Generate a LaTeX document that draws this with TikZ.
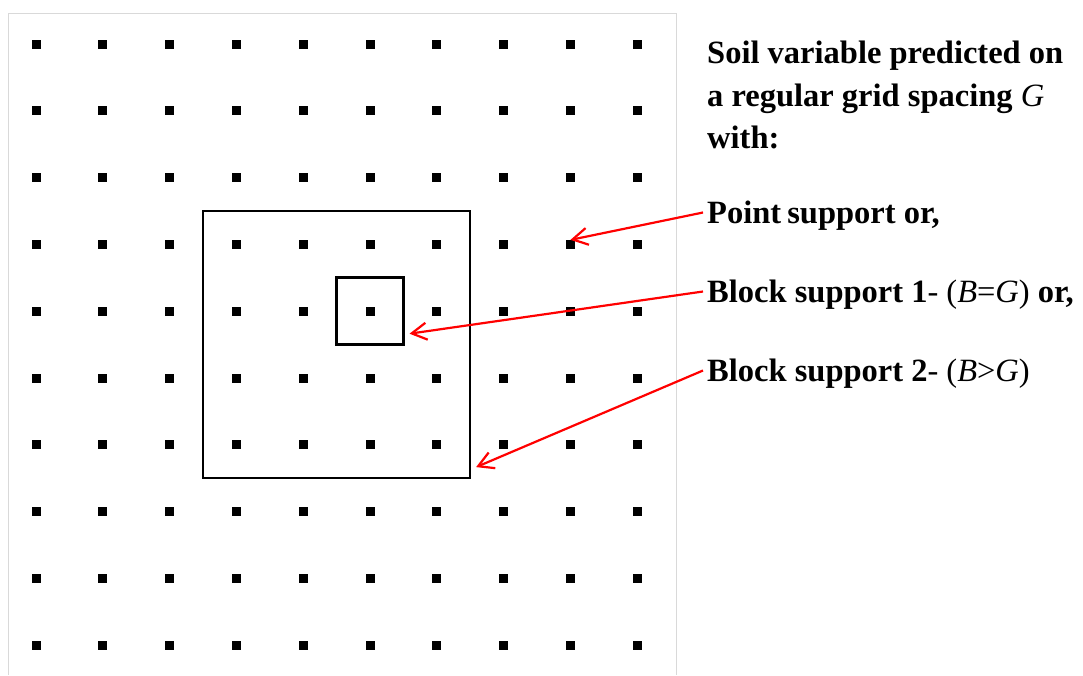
\documentclass[tikz,border=0pt]{standalone}
\usepackage{fontspec}
\setmainfont{Liberation Serif}
\usetikzlibrary{arrows.meta}
\begin{document}
\begin{tikzpicture}[x=1pt,y=-1pt,
  dot/.style={fill=black,minimum size=9pt,inner sep=0pt,outer sep=0pt},
  support/.style={draw=black,line width=2.5pt,inner sep=0pt,outer sep=0pt},
  lbl/.style={anchor=base west,inner xsep=4pt,inner ysep=0pt,text height=21pt,text depth=0pt,
    font=\fontsize{32.5}{40}\selectfont\bfseries},
  pointer/.style={draw=red,line width=2.2pt,-{Straight Barb[length=15pt,width=17pt]}}]
\useasboundingbox (0,0) rectangle (1083,675);
\fill[white] (0,0) rectangle (1083,675);
% light frame around the grid
\draw[gray!30,line width=1pt] (8,675) -- (8,13) -- (676,13) -- (676,675);
% prediction grid nodes
\foreach \i in {0,...,9}{
  \foreach \j in {0,...,9}{
    \node[dot] (d-\i-\j) at ({36+66.8*\i},{44+66.8*\j}) {};
  }
}
% block supports
\node[support,minimum width=267pt,minimum height=267pt] (block2) at (336.6,344.6) {};
\node[support,minimum size=67pt] (block1) at (d-5-4) {};
% legend text
\node[lbl] (h1) at (703,63) {Soil variable predicted on};
\node[lbl] (h2) at (703,106) {a regular grid spacing {\mdseries\itshape G}};
\node[lbl] (h3) at (703,148) {with:};
\node[lbl] (t1) at (703,223) {Point\hspace{-2pt} support or,};
\node[lbl] (t2) at (703,302) {Block support 1{\mdseries- (\textit{B}=\textit{G})} or,};
\node[lbl] (t3) at (703,381) {Block support 2{\mdseries- (\textit{B}>\textit{G})}};
% pointers
\draw[pointer] (t1.west) -- (d-8-3.north);
\draw[pointer] (t2.west) -- ([shift={(6,-11)}]block1.south east);
\draw[pointer] (t3.west) -- ([shift={(6,-11)}]block2.south east);
\end{tikzpicture}
\end{document}
